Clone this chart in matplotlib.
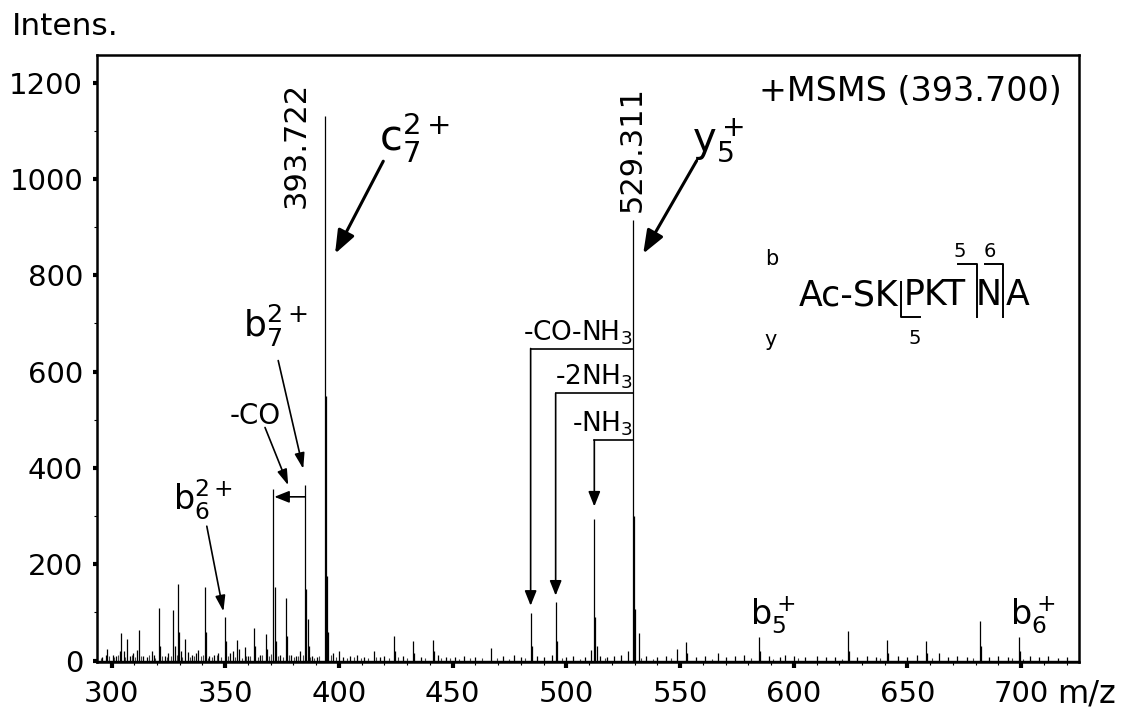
import matplotlib.pyplot as plt
from matplotlib.ticker import MultipleLocator

# stick spectrum (m/z, intensity)
peak_mz = [
    296.0, 297.6, 298.2, 300.5, 302.0, 303.7, 304.1, 305.3, 307.0, 308.2,
    309.6, 311.2, 312.3, 314.0, 315.5, 317.6, 318.5, 320.9, 321.5, 323.5,
    325.0, 327.1, 328.0, 329.3, 329.8, 330.5, 332.4, 333.5, 335.6, 337.0,
    338.2, 341.1, 341.6, 343.0, 345.0, 347.0, 349.8, 350.3, 352.0, 353.5,
    355.3, 356.0, 358.6, 360.0, 362.7, 363.2, 365.5, 367.8, 368.4, 371.2,
    371.7, 372.2, 374.0, 376.6, 377.1, 379.0, 381.0, 383.0, 385.2, 385.7,
    386.2, 386.7, 388.0, 390.5, 393.722, 394.22, 394.72, 395.22, 397.5, 400.0,
    402.0, 405.0, 408.0, 411.0, 415.3, 418.0, 420.0, 424.3, 424.8, 428.0,
    432.5, 433.0, 436.0, 441.3, 442.0, 443.7, 447.0, 451.0, 455.0, 460.0,
    467.0, 472.0, 477.0, 480.0, 484.3, 484.8, 487.0, 490.0, 493.5, 495.3,
    495.8, 500.0, 503.0, 508.0, 511.0, 512.3, 512.8, 513.3, 515.0, 518.0,
    521.0, 524.0, 527.0, 529.311, 529.81, 530.31, 531.8, 535.0, 540.0, 544.0,
    548.8, 552.6, 553.2, 557.0, 561.0, 566.5, 570.0, 574.0, 578.0, 584.8,
    585.3, 589.0, 594.0, 596.0, 600.0, 605.0, 610.0, 614.0, 618.0, 624.0,
    624.5, 628.0, 632.0, 636.0, 641.1, 641.6, 646.0, 650.0, 654.0, 658.1,
    658.6, 664.0, 668.0, 672.0, 676.0, 682.0, 682.5, 686.0, 690.0, 694.0,
    699.1, 699.6, 704.0, 708.0, 712.0, 716.0, 720.0,
]
peak_int = [
    8, 12, 25, 12, 10, 20, 57, 20, 45, 10,
    15, 22, 63, 10, 8, 20, 12, 109, 30, 10,
    15, 105, 30, 160, 60, 20, 45, 18, 12, 15,
    22, 153, 60, 10, 12, 15, 90, 40, 15, 20,
    43, 25, 29, 10, 67, 30, 12, 56, 25, 357,
    152, 40, 12, 130, 50, 12, 10, 20, 365, 148,
    86, 30, 10, 8, 1130, 550, 176, 60, 15, 20,
    8, 10, 12, 8, 20, 8, 10, 51, 20, 10,
    41, 15, 8, 43, 20, 12, 8, 8, 10, 8,
    27, 10, 12, 8, 98, 30, 10, 8, 12, 121,
    40, 8, 10, 8, 22, 295, 90, 30, 10, 8,
    10, 12, 20, 915, 300, 107, 58, 10, 8, 10,
    25, 38, 15, 8, 10, 15, 8, 10, 12, 49,
    20, 10, 8, 12, 10, 8, 10, 8, 8, 61,
    20, 8, 10, 8, 42, 15, 10, 8, 12, 41,
    15, 16, 8, 10, 8, 83, 30, 8, 10, 8,
    48, 20, 10, 8, 10, 6, 8,
]

# low-level baseline noise, mostly below m/z 460
noise_mz = [
    295.2, 299.0, 301.2, 303.0, 306.1, 308.9, 310.4, 313.1, 316.4, 319.3,
    322.3, 324.2, 326.0, 328.6, 331.2, 334.4, 336.2, 339.3, 340.2, 342.3,
    344.1, 346.2, 348.1, 351.1, 354.2, 357.2, 359.3, 361.1, 364.2, 366.3,
    369.4, 370.3, 373.1, 375.2, 378.1, 380.2, 382.1, 384.2, 387.3, 389.2,
    391.4, 396.3, 398.8, 403.5, 406.6, 409.7, 413.0, 416.5, 422.0, 426.0,
    430.0, 438.0, 445.0, 449.0, 453.0, 457.5, 463.0, 469.5, 475.0, 482.0,
    498.0, 506.0, 517.0, 533.0, 538.0, 546.0, 564.0, 581.0, 591.0, 602.0,
    621.0, 638.0, 661.0, 679.0, 696.0, 701.0,
]
noise_int = [
    6, 9, 7, 12, 8, 11, 7, 9, 12, 6,
    10, 7, 9, 12, 8, 7, 10, 9, 12, 6,
    8, 11, 7, 9, 8, 6, 10, 9, 7, 12,
    9, 14, 10, 8, 11, 7, 9, 12, 8, 6,
    9, 12, 8, 6, 7, 5, 6, 7, 6, 8,
    5, 6, 5, 6, 4, 6, 5, 6, 4, 5,
    5, 4, 6, 5, 4, 6, 4, 5, 4, 5,
    4, 5, 6, 5, 6, 4,
]

x_ticks = [300, 350, 400, 450, 500, 550, 600, 650, 700]
y_ticks = [0, 200, 400, 600, 800, 1000, 1200]

fig = plt.figure(figsize=(11.38, 7.22), dpi=100)
ax = fig.add_axes([0.0852, 0.0831, 0.8629, 0.8407])

ax.vlines(noise_mz, 0, noise_int, colors='#444444', lw=0.8)
ax.vlines(peak_mz, 0, peak_int, colors='black', lw=0.9)
ax.axhline(0, color='black', lw=1.0)

ax.set_xlim(293.6, 725.4)
ax.set_ylim(-3, 1257.5)
ax.set_xticks(x_ticks)
ax.set_yticks(y_ticks)
ax.xaxis.set_minor_locator(MultipleLocator(10))
ax.yaxis.set_minor_locator(MultipleLocator(100))
ax.tick_params(axis='both', which='major', direction='out', labelsize=21,
               width=3, color='black')
ax.tick_params(axis='x', which='major', length=4.5, pad=8.5)
ax.tick_params(axis='y', which='major', length=3, pad=7)
ax.tick_params(axis='both', which='minor', direction='out', length=2.5, width=0.8)
for sp in ax.spines.values():
    sp.set_linewidth(1.8)

fig.text(0.0103, 1 - 12 / 722, 'Intens.', fontsize=22.5, va='top', ha='left')
fig.text(1057 / 1138, 1 - 702 / 722, 'm/z', fontsize=23, va='baseline', ha='left')

# peak m/z labels
ax.text(381.0, 939, '393.722', rotation=90, fontsize=22, ha='center', va='bottom')
ax.text(528.8, 931, '529.311', rotation=90, fontsize=22, ha='center', va='bottom')
ax.text(717.9, 1181, '+MSMS (393.700)', fontsize=24, ha='right', va='center')

# fragment labels
ax.text(417.5, 1060, r'c$_7^{2+}$', fontsize=30, va='baseline')
ax.text(555.2, 1058, r'y$_5^+$', fontsize=29, va='baseline')
ax.text(357.9, 672, r'b$_7^{2+}$', fontsize=26, va='baseline')
ax.text(352.1, 492, '-CO', fontsize=20, va='baseline')
ax.text(327.2, 311, r'b$_6^{2+}$', fontsize=24, va='baseline')
ax.text(580.7, 74, r'b$_5^+$', fontsize=24, va='baseline')
ax.text(695.0, 74, r'b$_6^+$', fontsize=24, va='baseline')

big = dict(arrowstyle='-|>,head_length=0.7,head_width=0.27', lw=2.2,
           color='black', shrinkA=0, shrinkB=0, mutation_scale=20)
thin = dict(arrowstyle='-|>,head_length=0.95,head_width=0.3', lw=1.2,
            color='black', shrinkA=0, shrinkB=0, mutation_scale=10)
small = dict(arrowstyle='-|>,head_length=0.9,head_width=0.36', lw=1.2,
             color='black', shrinkA=0, shrinkB=0, mutation_scale=10)

ax.annotate('', xy=(398.3, 845), xytext=(419.5, 1037), arrowprops=big)
ax.annotate('', xy=(533.8, 845), xytext=(557.3, 1038), arrowprops=big)
ax.annotate('', xy=(384.3, 398), xytext=(373.3, 623), arrowprops=thin)
ax.annotate('', xy=(377.7, 364), xytext=(367.5, 484), arrowprops=thin)
ax.annotate('', xy=(349.2, 102), xytext=(341.9, 279), arrowprops=thin)
ax.annotate('', xy=(371.6, 340), xytext=(385.2, 340), arrowprops=small)

# neutral losses from y5+
losses = [('-CO-NH$_3$', 484.3, 648, 114), ('-2NH$_3$', 495.3, 555, 135),
          ('-NH$_3$', 512.3, 457.5, 320)]
for lab, target, level, tip in losses:
    ax.plot([529.311, target], [level, level], color='black', lw=1.2)
    ax.annotate('', xy=(target, tip), xytext=(target, level), arrowprops=small)
    ax.text(529.0, level + 4, lab, fontsize=19, ha='right', va='bottom')

# peptide sequence with fragment brackets
ax.text(587.3, 833, 'b', fontsize=15, va='center')
ax.text(587.3, 666, 'y', fontsize=15, va='center')
ax.text(646.2, 738, 'Ac-SK', fontsize=25, ha='right', va='baseline')
ax.text(648.3, 738, 'PKT', fontsize=25, ha='left', va='baseline')
ax.text(685.8, 738, 'N', fontsize=25, ha='center', va='baseline')
ax.text(693.3, 738, 'A', fontsize=25, ha='left', va='baseline')
ax.plot([647.3, 647.3, 655.4], [786, 714, 714], color='black', lw=1.4)
ax.plot([672.2, 680.7, 680.7], [824.5, 824.5, 714], color='black', lw=1.4)
ax.plot([684.0, 692.1, 692.1], [824.5, 824.5, 714], color='black', lw=1.4)
ax.text(653.3, 669, '5', fontsize=14, ha='center', va='center')
ax.text(673.0, 849, '5', fontsize=14, ha='center', va='center')
ax.text(686.2, 849, '6', fontsize=14, ha='center', va='center')

fig.savefig('out.png', dpi=100)
